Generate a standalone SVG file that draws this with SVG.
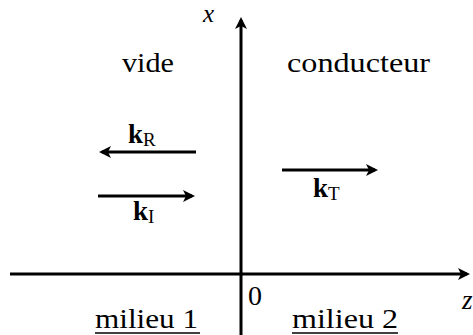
<svg xmlns="http://www.w3.org/2000/svg" width="473" height="335" viewBox="0 0 473 335">
  <style>
    .ax { stroke:#000; stroke-width:3; fill:none; }
    .ul { stroke:#000; stroke-width:1.3; }
  </style>
  <defs>
    <marker id="ah" markerUnits="userSpaceOnUse" markerWidth="20" markerHeight="20" refX="0" refY="0" viewBox="-12 -8 20 16" orient="auto" overflow="visible">
      <path d="M3,0 L-9,-6 L-6,0 L-9,6 Z" fill="#000"/>
    </marker>
  </defs>
  <rect width="473" height="335" fill="#fff"/>
  <g id="connectors">
    <line id="axis-z" class="ax" x1="10" y1="274" x2="467" y2="274" marker-end="url(#ah)"/>
    <line id="axis-x" class="ax" x1="241" y1="335" x2="241" y2="20" marker-end="url(#ah)"/>
    <line id="arrow-kR" class="ax" x1="196" y1="152" x2="102" y2="152" marker-end="url(#ah)"/>
    <line id="arrow-kI" class="ax" x1="98" y1="196" x2="192" y2="196" marker-end="url(#ah)"/>
    <line id="arrow-kT" class="ax" x1="282" y1="170" x2="375" y2="170" marker-end="url(#ah)"/>
  </g>
  <g id="label-x"><text font-family="'Liberation Serif', serif" font-size="25" font-style="italic" x="203" y="22">x</text></g>
  <g id="label-z"><text font-family="'Liberation Serif', serif" font-size="27" font-style="italic" x="462" y="309">z</text></g>
  <g id="label-0"><text font-family="'Liberation Serif', serif" font-size="27" x="248" y="305" textLength="14" lengthAdjust="spacingAndGlyphs">0</text></g>
  <g id="label-vide"><text font-family="'Liberation Serif', serif" font-size="27" x="122" y="72" textLength="52" lengthAdjust="spacingAndGlyphs">vide</text></g>
  <g id="label-conducteur"><text font-family="'Liberation Serif', serif" font-size="27" x="287" y="72" textLength="143" lengthAdjust="spacingAndGlyphs">conducteur</text></g>
  <g id="label-kR"><text font-family="'Liberation Serif', serif" font-size="27" font-weight="bold" x="128" y="143">k<tspan font-size="19" font-weight="normal" dy="3">R</tspan></text></g>
  <g id="label-kI"><text font-family="'Liberation Serif', serif" font-size="27" font-weight="bold" x="133" y="220">k<tspan font-size="19" font-weight="normal" dy="3">I</tspan></text></g>
  <g id="label-kT"><text font-family="'Liberation Serif', serif" font-size="27" font-weight="bold" x="313" y="197">k<tspan font-size="19" font-weight="normal" dy="3">T</tspan></text></g>
  <g id="label-milieu1">
    <text font-family="'Liberation Serif', serif" font-size="27" x="95" y="328" textLength="103" lengthAdjust="spacingAndGlyphs">milieu 1</text>
    <line class="ul" x1="95" y1="333" x2="200" y2="333"/>
  </g>
  <g id="label-milieu2">
    <text font-family="'Liberation Serif', serif" font-size="27" x="292" y="328" textLength="106" lengthAdjust="spacingAndGlyphs">milieu 2</text>
    <line class="ul" x1="292" y1="333" x2="398" y2="333"/>
  </g>
</svg>
